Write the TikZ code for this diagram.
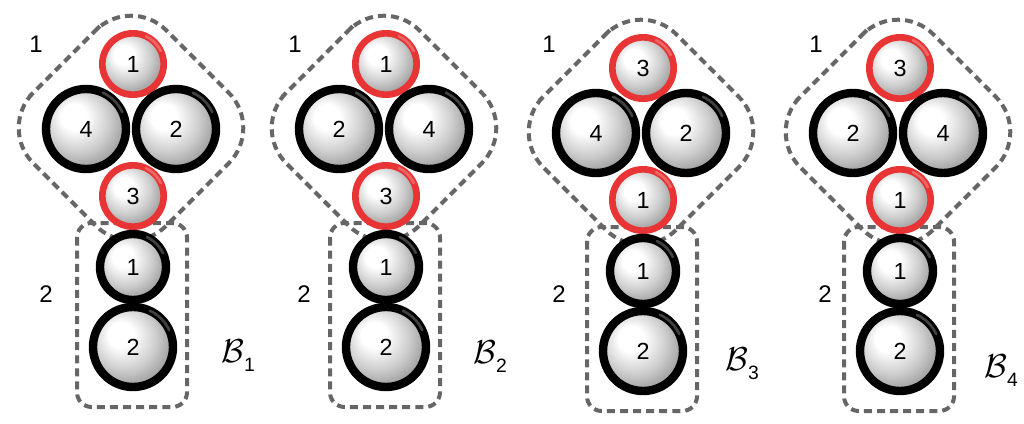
\documentclass[tikz,border=0pt]{standalone}
\usepackage{fontspec}
\setmainfont{Liberation Sans}
\usepackage{tikz}

\definecolor{ringred}{RGB}{232,52,52}
\definecolor{dashgray}{RGB}{102,102,102}
\pgfdeclareradialshading{pearl}{\pgfpoint{-9bp}{9bp}}{color(0bp)=(white); color(8bp)=(white); color(20bp)=(black!20); color(32bp)=(black!45); color(50bp)=(black!60)}

\begin{document}
\begin{tikzpicture}[x=0.75pt, y=-0.75pt,
    ball/.style={circle, shading=pearl, draw=black, line width=6.3pt, minimum size=60pt, inner sep=0pt, outer sep=0pt, font=\fontsize{17.5}{18}\selectfont},
    smallball/.style={ball, minimum size=49.5pt},
    redball/.style={ball, draw=ringred, line width=5pt, minimum size=46pt},
    group/.style={draw=dashgray, line width=3pt, dash pattern=on 6pt off 3.8pt},
    lbl/.style={font=\fontsize{18}{20}\selectfont, inner sep=0pt},
    glint/.style={line width=2pt, white, opacity=0.25, line cap=round}]
    \useasboundingbox (0,0) rectangle (1024,424);
    \foreach \k/\cx/\cy/\nt/\nl/\nr/\nb/\ax/\bx/\lx/\ly in {1/133/64/1/4/2/3/36/46/221/362,
        2/386/64/1/2/4/3/295/304/473/363, 3/643/68/3/4/2/1/549/559/725/370,
        4/900/68/3/2/4/1/816/825/984/377} {
        \begin{scope}[shift={(\cx,\cy)}]
            % dashed groups first, the balls cover them
            \draw[group, rounded corners=37.5pt] (-68.5,-2.5) -- (-2,-69) -- (131,64) -- (-2,197) -- (-135,64) -- cycle;
            \draw[group, rounded corners=11pt] (-56,159) rectangle (54,343);
            \node[redball] (t\k) at (0,0) {\nt};
            \node[ball] (l\k) at (-47,65) {\nl};
            \node[ball] (r\k) at (43,65) {\nr};
            \node[redball] (b\k) at (0,132) {\nb};
            \node[smallball] (u\k) at (0,203) {1};
            \node[ball] (v\k) at (0,283) {2};
            \foreach \n/\rr in {t/23pt, l/30pt, r/30pt, b/23pt, u/24.75pt, v/30pt} {
                \draw[glint] (\n\k.25) arc[start angle=25, end angle=65, radius=\rr];
            }
        \end{scope}
        \node[lbl] (one\k) at (\ax,44) {1};
        \node[lbl] (two\k) at (\bx,294) {2};
        \node[anchor=base west, inner sep=0pt, font=\fontsize{25}{27}\selectfont] (B\k) at (\lx,\ly) {$\mathcal{B}$\raisebox{-7pt}{\fontsize{14.5}{15}\selectfont\k}};
    }
\end{tikzpicture}
\end{document}
